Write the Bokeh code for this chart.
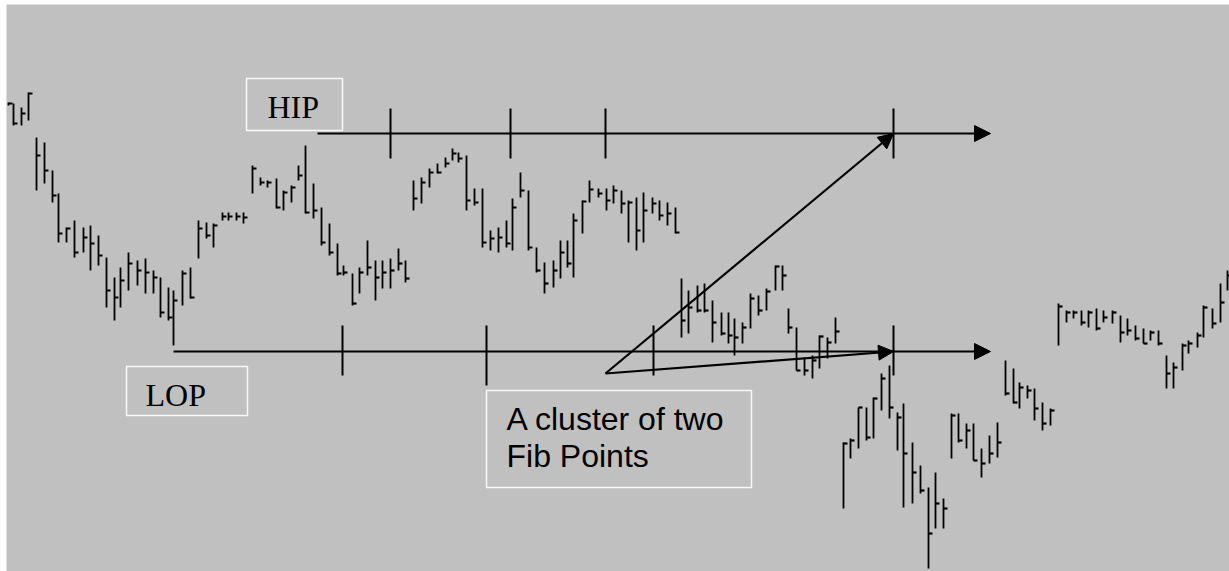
from bokeh.plotting import figure
from bokeh.models import Range1d, Arrow, NormalHead, Label, BoxAnnotation, ColumnDataSource
from bokeh.embed import file_html
from bokeh.resources import INLINE

# ---- bar data (time position, high, low, close) ----
bar_x = [8, 13, 21, 28, 36, 44, 52, 58, 66, 74, 83, 90, 98, 106, 114, 120, 128, 137, 145, 153,
         160, 168, 173, 182, 190, 198, 206, 213, 222, 228, 236, 243, 252, 260, 267, 276, 283, 291, 298, 305,
         313, 321, 329, 337, 343, 352, 359, 367, 375, 382, 390, 398, 405, 413, 421, 429, 437, 445, 452, 458,
         466, 474, 482, 490, 498, 506, 512, 520, 528, 536, 544, 553, 560, 567, 573, 582, 589, 598, 606, 613,
         621, 628, 636, 643, 652, 659, 667, 675, 681, 688, 697, 704, 712, 721, 728, 734, 742, 750, 758, 766,
         775, 782, 788, 796, 804, 812, 819, 827, 835, 843, 850, 858, 866, 873, 881, 889, 897, 903, 912, 920,
         928, 935, 943, 951, 958, 966, 973, 981, 989, 997, 1005, 1013, 1019, 1027, 1034, 1042, 1050, 1058, 1066, 1073,
         1081, 1088, 1096, 1103, 1112, 1120, 1127, 1135, 1143, 1150, 1158, 1166, 1173, 1182, 1188, 1197, 1203, 1212, 1220, 1227]
bar_high = [498, 497, 493, 508, 463, 458, 430, 407, 373, 380, 373, 375, 365, 343, 323, 333, 348, 340, 342, 330,
            323, 313, 310, 330, 333, 380, 378, 377, 388, 388, 388, 388, 435, 423, 420, 422, 410, 415, 435, 455,
            417, 393, 377, 357, 335, 327, 333, 360, 340, 340, 342, 352, 340, 420, 423, 432, 437, 443, 452, 448,
            445, 412, 412, 370, 373, 380, 402, 428, 410, 353, 338, 340, 360, 360, 387, 400, 420, 412, 412, 415,
            410, 400, 403, 408, 403, 400, 398, 393, 322, 310, 315, 317, 300, 288, 288, 282, 278, 307, 305, 312,
            335, 335, 292, 273, 243, 245, 265, 263, 283, 158, 162, 193, 193, 203, 227, 235, 188, 197, 158, 135,
            113, 128, 102, 187, 187, 177, 177, 152, 165, 178, 240, 232, 218, 215, 212, 198, 192, 297, 290, 290,
            290, 290, 292, 290, 290, 285, 282, 275, 272, 270, 270, 245, 238, 257, 260, 268, 295, 292, 317, 330]
bar_low = [495, 475, 475, 480, 410, 417, 398, 358, 358, 343, 348, 330, 335, 293, 280, 293, 310, 315, 307, 307,
           283, 280, 255, 295, 302, 342, 362, 353, 380, 380, 380, 377, 407, 415, 413, 392, 390, 398, 420, 387,
           382, 355, 345, 325, 325, 295, 307, 325, 300, 312, 312, 330, 318, 390, 397, 413, 427, 433, 440, 438,
           390, 395, 353, 350, 348, 353, 350, 403, 350, 328, 307, 313, 322, 333, 323, 367, 398, 403, 390, 397,
           387, 358, 350, 358, 387, 380, 375, 367, 263, 267, 288, 288, 258, 265, 257, 245, 257, 272, 285, 290,
           310, 310, 267, 230, 225, 222, 232, 242, 257, 92, 142, 152, 160, 162, 190, 182, 150, 93, 97, 107,
           32, 72, 72, 142, 158, 152, 140, 123, 137, 143, 205, 197, 192, 202, 180, 170, 175, 255, 278, 282,
           275, 273, 270, 278, 277, 258, 265, 260, 257, 260, 255, 212, 212, 230, 247, 253, 263, 272, 278, 310]
bar_close = [497, 477, 487, 507, 445, 430, 405, 367, 372, 348, 363, 357, 345, 310, 303, 320, 337, 330, 328, 323,
             288, 283, 300, 327, 303, 372, 365, 375, 384, 384, 384, 383, 432, 418, 418, 393, 408, 413, 425, 388,
             390, 358, 348, 327, 328, 297, 328, 333, 323, 328, 330, 337, 322, 402, 418, 428, 428, 437, 447, 442,
             400, 398, 358, 362, 363, 357, 393, 410, 353, 330, 317, 330, 348, 337, 380, 399, 411, 407, 400, 410,
             397, 398, 370, 390, 397, 385, 387, 368, 280, 293, 290, 290, 278, 267, 265, 263, 273, 302, 290, 309,
             334, 325, 273, 230, 230, 240, 264, 258, 269, 157, 160, 193, 163, 202, 222, 193, 183, 147, 128, 110,
             67, 97, 92, 185, 160, 170, 140, 137, 147, 158, 207, 198, 213, 210, 192, 177, 190, 294, 288, 288,
             278, 288, 272, 283, 288, 268, 270, 262, 257, 268, 257, 227, 233, 255, 257, 265, 293, 277, 298, 325]

# ---- Fibonacci annotation values ----
hip_level = 467
lop_level = 249
hip_start = 317
lop_start = 173
line_end = 990
hip_fib_x = [390, 510, 605, 893]
lop_fib_x = [342, 486, 653, 893]
cluster_apex = (605, 227)
cluster_target = 893

BG = "#c0c0c0"

p = figure(width=1229, height=571, output_backend="svg", toolbar_location=None,
           x_range=Range1d(6, 1229), y_range=Range1d(29, 596),
           x_axis_location=None, y_axis_location=None,
           min_border_left=6, min_border_top=4, min_border_right=0, min_border_bottom=0,
           background_fill_color=BG, border_fill_color="white", outline_line_color=None)
p.grid.visible = False

tick = 4
src = ColumnDataSource(dict(x=bar_x, h=bar_high, l=bar_low, c=bar_close,
                            xr=[v + tick for v in bar_x]))
p.segment(x0="x", y0="l", x1="x", y1="h", source=src, line_color="black", line_width=1.8)
p.segment(x0="x", y0="c", x1="xr", y1="c", source=src, line_color="black", line_width=2.2)

# horizontal level lines with arrows
for lvl, start in ((hip_level, hip_start), (lop_level, lop_start)):
    p.add_layout(Arrow(end=NormalHead(size=16, fill_color="black", line_color="black"),
                       x_start=start, y_start=lvl, x_end=line_end, y_end=lvl,
                       line_color="black", line_width=2.2))

# fib tick marks
p.segment(x0=hip_fib_x, x1=hip_fib_x, y0=[hip_level - 25] * 4, y1=[hip_level + 25] * 4,
          line_color="black", line_width=2)
lop_lo = [lop_level - 24, lop_level - 34, lop_level - 24, lop_level - 24]
p.segment(x0=lop_fib_x, x1=lop_fib_x, y0=lop_lo, y1=[lop_level + 26] * 4,
          line_color="black", line_width=2)

# cluster arrows
for lvl in (hip_level, lop_level):
    p.add_layout(Arrow(end=NormalHead(size=15, fill_color="black", line_color="black"),
                       x_start=cluster_apex[0], y_start=cluster_apex[1],
                       x_end=cluster_target, y_end=lvl, line_color="black", line_width=2.2))

# label boxes
for (l, r, b, t) in ((246, 342, 470, 522), (126, 247, 185, 234), (486, 751, 113, 210)):
    p.add_layout(BoxAnnotation(left=l, right=r, bottom=b, top=t, fill_color=BG, fill_alpha=1,
                               line_color="white", line_alpha=0.9, line_width=1.5))

p.add_layout(Label(x=267, y=494, text="HIP", text_font="Liberation Serif", text_font_size="32px",
                   text_color="black", text_baseline="alphabetic"))
p.add_layout(Label(x=145, y=206, text="LOP", text_font="Liberation Serif", text_font_size="32px",
                   text_color="black", text_baseline="alphabetic"))
p.add_layout(Label(x=506, y=182, text="A cluster of two", text_font="Liberation Sans",
                   text_font_size="32px", text_color="black", text_baseline="alphabetic"))
p.add_layout(Label(x=506, y=145, text="Fib Points", text_font="Liberation Sans",
                   text_font_size="32px", text_color="black", text_baseline="alphabetic"))

open("out.html", "w").write(file_html(p, INLINE))
